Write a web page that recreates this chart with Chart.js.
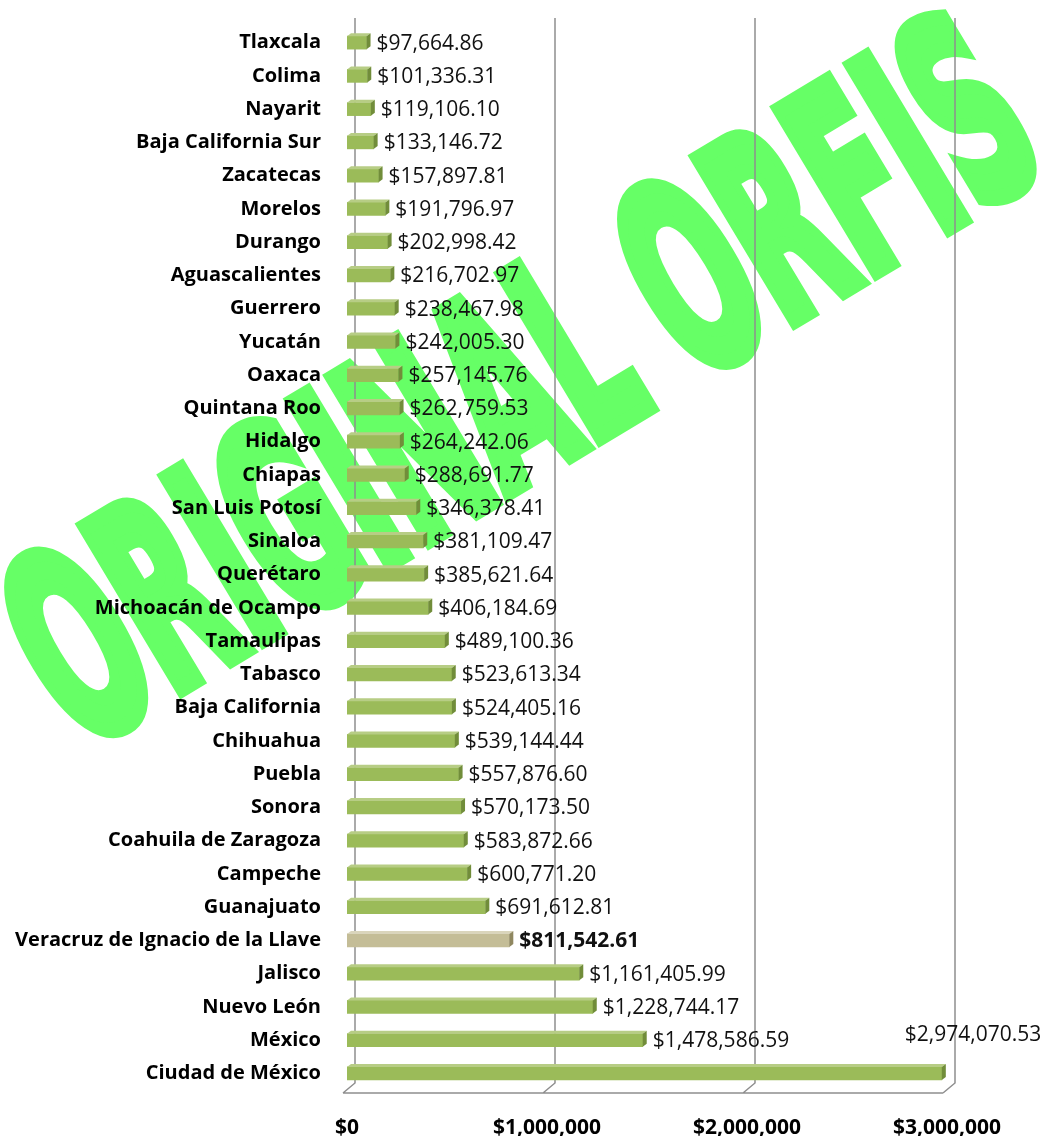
<!DOCTYPE html>
<html>
<head>
<meta charset="utf-8">
<script src="https://cdn.jsdelivr.net/npm/chart.js@4.4.0/dist/chart.umd.min.js"></script>
<style>
  html, body { margin: 0; padding: 0; background: #fff; }
  #wrap { width: 1051px; height: 1136px; }
</style>
</head>
<body>
<div id="wrap"><canvas id="orfisChart" width="1051" height="1136"></canvas></div>
<script>
// Datos del reporte (de arriba hacia abajo)
const states = [
    'Tlaxcala', 'Colima', 'Nayarit', 'Baja California Sur', 'Zacatecas', 'Morelos',
    'Durango', 'Aguascalientes', 'Guerrero', 'Yucatán', 'Oaxaca', 'Quintana Roo',
    'Hidalgo', 'Chiapas', 'San Luis Potosí', 'Sinaloa', 'Querétaro',
    'Michoacán de Ocampo', 'Tamaulipas', 'Tabasco', 'Baja California', 'Chihuahua',
    'Puebla', 'Sonora', 'Coahuila de Zaragoza', 'Campeche', 'Guanajuato',
    'Veracruz de Ignacio de la Llave', 'Jalisco', 'Nuevo León', 'México', 'Ciudad de México'
];
const amounts = [
    97664.86, 101336.31, 119106.10, 133146.72, 157897.81, 191796.97,
    202998.42, 216702.97, 238467.98, 242005.30, 257145.76, 262759.53,
    264242.06, 288691.77, 346378.41, 381109.47, 385621.64,
    406184.69, 489100.36, 523613.34, 524405.16, 539144.44,
    557876.60, 570173.50, 583872.66, 600771.20, 691612.81,
    811542.61, 1161405.99, 1228744.17, 1478586.59, 2974070.53
];
const highlightState = 'Veracruz de Ignacio de la Llave';
const xTickValues = [0, 1000000, 2000000, 3000000];
const watermarkText = 'ORIGINAL ORFIS';

const GREEN = { front: '#9BBB59', top: '#B7CD85', side: '#718D3A' };
const BEIGE = { front: '#C4BD97', top: '#DAD5BC', side: '#8F8760' };

const money = (v) => '$' + v.toLocaleString('en-US', { minimumFractionDigits: 2, maximumFractionDigits: 2 });
const isHi = (i) => states[i] === highlightState;

// fondo + marca de agua (detras de todo)
const watermarkPlugin = {
    id: 'watermark',
    beforeDraw(chart) {
        const ctx = chart.ctx;
        ctx.save();
        ctx.fillStyle = '#fff';
        ctx.fillRect(0, 0, chart.width, chart.height);
        ctx.translate(518, 378);
        ctx.rotate(-31 * Math.PI / 180);
        ctx.font = 'bold 258px "DejaVu Sans"';
        const w = ctx.measureText(watermarkText).width;
        ctx.scale(1135 / w, 1);
        ctx.textAlign = 'center';
        ctx.textBaseline = 'alphabetic';
        ctx.fillStyle = '#66FF66';
        ctx.strokeStyle = '#66FF66';
        ctx.lineWidth = 17;
        ctx.lineJoin = 'miter';
        ctx.fillText(watermarkText, 0, 93);
        ctx.strokeText(watermarkText, 0, 93);
        ctx.restore();
    }
};

// pared del fondo y piso en perspectiva
const wallPlugin = {
    id: 'wall',
    beforeDatasetsDraw(chart) {
        const { ctx, chartArea, scales: { x } } = chart;
        const backDx = 8, frontDx = -4;
        const backY = chartArea.bottom - 7, frontY = chartArea.bottom + 3;
        ctx.save();
        ctx.strokeStyle = '#8E8E8E';
        ctx.lineWidth = 1.5;
        ctx.beginPath();
        xTickValues.forEach((v) => {
            const px = x.getPixelForValue(v);
            ctx.moveTo(px + backDx, chartArea.top - 8);
            ctx.lineTo(px + backDx, backY);
            ctx.lineTo(px + frontDx, frontY);
        });
        ctx.moveTo(x.getPixelForValue(0) + frontDx, frontY);
        ctx.lineTo(x.getPixelForValue(3000000) + frontDx, frontY);
        ctx.stroke();
        ctx.restore();
    }
};

// caras 3D y etiquetas de valor
const bar3dPlugin = {
    id: 'bar3d',
    afterDatasetsDraw(chart) {
        const ctx = chart.ctx;
        const meta = chart.getDatasetMeta(0);
        const dx = 4, dy = 3;
        ctx.save();
        meta.data.forEach((bar, i) => {
            const c = isHi(i) ? BEIGE : GREEN;
            const top = bar.y - bar.height / 2, bottom = bar.y + bar.height / 2;
            ctx.fillStyle = c.top;
            ctx.beginPath();
            ctx.moveTo(bar.base, top);
            ctx.lineTo(bar.base + dx, top - dy);
            ctx.lineTo(bar.x + dx, top - dy);
            ctx.lineTo(bar.x, top);
            ctx.closePath();
            ctx.fill();
            ctx.fillStyle = c.side;
            ctx.beginPath();
            ctx.moveTo(bar.x, top);
            ctx.lineTo(bar.x + dx, top - dy);
            ctx.lineTo(bar.x + dx, bottom - dy);
            ctx.lineTo(bar.x, bottom);
            ctx.closePath();
            ctx.fill();
        });
        meta.data.forEach((bar, i) => {
            ctx.font = (isHi(i) ? 'bold ' : '') + '21px "Open Sans"';
            ctx.fillStyle = '#111';
            ctx.textBaseline = 'middle';
            ctx.textAlign = 'left';
            if (i === meta.data.length - 1) {
                ctx.fillText(money(amounts[i]), bar.x - 37, bar.y - 38);
            } else {
                ctx.fillText(money(amounts[i]), bar.x + 10, bar.y + 1);
            }
        });
        ctx.restore();
    }
};

new Chart(document.getElementById('orfisChart'), {
    type: 'bar',
    data: {
        labels: states,
        datasets: [{
            data: amounts,
            backgroundColor: states.map((s, i) => isHi(i) ? BEIGE.front : GREEN.front),
            borderWidth: 0,
            barThickness: 13,
        }]
    },
    options: {
        indexAxis: 'y',
        responsive: false,
        animation: false,
        devicePixelRatio: 1,
        layout: { padding: { top: 26, right: 104, left: 0, bottom: 0 } },
        plugins: {
            legend: { display: false },
            tooltip: { enabled: false }
        },
        scales: {
            x: {
                min: 0,
                max: 3000000,
                afterBuildTicks: (scale) => { scale.ticks = xTickValues.map((v) => ({ value: v })); },
                afterFit: (scale) => { scale.height = 46; },
                grid: { display: false, drawTicks: false },
                border: { display: false },
                ticks: {
                    padding: 25,
                    color: '#000',
                    font: { family: 'Open Sans', size: 21, weight: 'bold' },
                    callback: (v) => '$' + Number(v).toLocaleString('en-US')
                }
            },
            y: {
                afterFit: (scale) => {
                    scale.width = 347;
                    scale.paddingTop = 0;
                    scale.paddingBottom = 0;
                },
                grid: { display: false, drawTicks: false },
                border: { display: false },
                ticks: {
                    padding: 26,
                    color: '#000',
                    autoSkip: false,
                    font: { family: 'Open Sans', size: 20, weight: 'bold' }
                }
            }
        }
    },
    plugins: [watermarkPlugin, wallPlugin, bar3dPlugin]
});
</script>
</body>
</html>
